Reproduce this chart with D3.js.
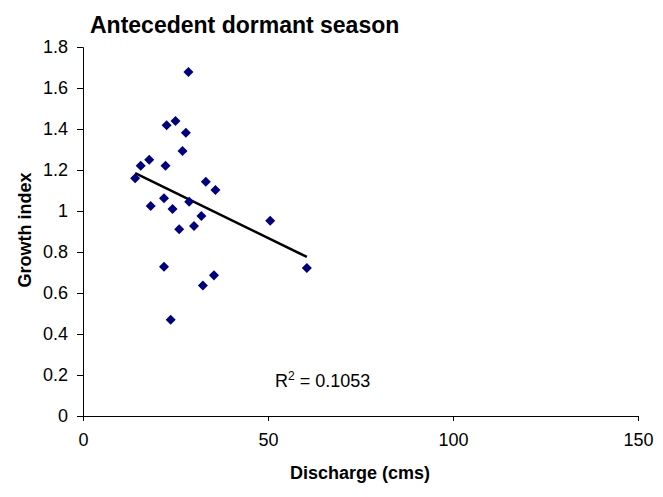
<!DOCTYPE html>
<html>
<head>
<meta charset="utf-8">
<script src="https://cdn.jsdelivr.net/npm/d3@7"></script>
<style>
  html, body { margin: 0; padding: 0; background: #fff; }
  svg { display: block; font-family: "Liberation Sans", Arial, sans-serif; }
</style>
</head>
<body>
<svg id="chart" width="663" height="497"></svg>
<script>
// Discharge (cms) and growth index for each observation
const discharge = [28.5, 22.6, 25.0, 27.8, 26.9, 17.9, 15.6, 22.3, 14.1, 33.2, 35.8, 21.9,
                   18.3, 24.2, 28.7, 32.0, 26.0, 30.0, 50.6, 60.5, 21.9, 35.4, 32.4, 23.7];
const growth    = [1.678, 1.418, 1.439, 1.382, 1.293, 1.250, 1.221, 1.221, 1.160, 1.143, 1.102, 1.062,
                   1.024, 1.010, 1.045, 0.976, 0.911, 0.927, 0.953, 0.722, 0.728, 0.686, 0.637, 0.470];
const xTicks = [0, 50, 100, 150];
const yTicks = [0, 0.2, 0.4, 0.6, 0.8, 1, 1.2, 1.4, 1.6, 1.8];
const rSquared = "0.1053";

const svg = d3.select("#chart");
const plot = { left: 83, right: 638, top: 47, bottom: 416 };

const x = d3.scaleLinear().domain([0, 150]).range([plot.left, plot.right]);
const y = d3.scaleLinear().domain([0, 1.8]).range([plot.bottom, plot.top]);

// Axes
const xAxis = svg.append("g")
  .attr("transform", `translate(0,${plot.bottom})`)
  .call(d3.axisBottom(x).tickValues(xTicks).tickSize(5).tickPadding(12).tickFormat(d3.format("d")));
const yAxis = svg.append("g")
  .attr("transform", `translate(${plot.left},0)`)
  .call(d3.axisLeft(y).tickValues(yTicks).tickSize(6).tickPadding(9).tickFormat(d => String(d)));
[xAxis, yAxis].forEach(g => {
  g.select(".domain").attr("stroke", "#000").attr("stroke-width", 1);
  g.selectAll(".tick line").attr("stroke", "#000");
  g.selectAll(".tick text").attr("font-size", 18).attr("fill", "#000")
    .attr("font-family", "Liberation Sans, Arial, sans-serif");
});

// Least-squares trend line over the observed discharge range
const n = discharge.length;
const mx = d3.mean(discharge), my = d3.mean(growth);
let sxy = 0, sxx = 0;
for (let i = 0; i < n; i++) {
  sxy += (discharge[i] - mx) * (growth[i] - my);
  sxx += (discharge[i] - mx) ** 2;
}
const slope = sxy / sxx, intercept = my - slope * mx;
const [x0, x1] = d3.extent(discharge);
svg.append("line")
  .attr("x1", x(x0)).attr("y1", y(intercept + slope * x0))
  .attr("x2", x(x1)).attr("y2", y(intercept + slope * x1))
  .attr("stroke", "#000").attr("stroke-width", 2.5);

// Diamond markers
const diamond = d3.symbol().type(d3.symbolDiamond2).size(64);
svg.append("g").selectAll("path")
  .data(discharge.map((d, i) => [d, growth[i]]))
  .join("path")
  .attr("d", diamond)
  .attr("transform", d => `translate(${x(d[0])},${y(d[1])})`)
  .attr("fill", "#000080");

// Title and axis titles
svg.append("text").attr("x", 90).attr("y", 33)
  .attr("font-size", 23).attr("font-weight", "bold").text("Antecedent dormant season");
svg.append("text").attr("x", 360).attr("y", 479)
  .attr("text-anchor", "middle").attr("font-size", 18).attr("font-weight", "bold")
  .text("Discharge (cms)");
svg.append("text")
  .attr("transform", `translate(31,230) rotate(-90)`)
  .attr("text-anchor", "middle").attr("font-size", 18).attr("font-weight", "bold")
  .text("Growth index");

// R² annotation
const r2 = svg.append("text").attr("x", 275).attr("y", 387).attr("font-size", 18);
r2.append("tspan").text("R");
r2.append("tspan").attr("dy", -7).attr("font-size", 12).text("2");
r2.append("tspan").attr("dy", 7).text(" = " + rSquared);
</script>
</body>
</html>
